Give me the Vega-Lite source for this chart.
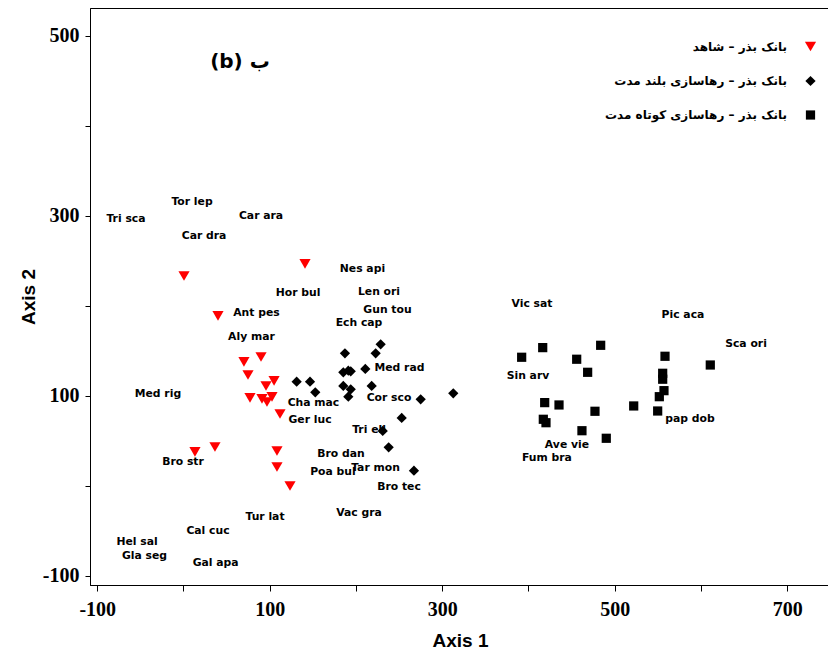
{
  "$schema": "https://vega.github.io/schema/vega-lite/v6.json",
  "width": 740,
  "height": 577,
  "autosize": {"type": "none"},
  "padding": {"left": 90, "top": 8, "right": 0, "bottom": 67},
  "background": "white",
  "config": {
    "view": {"stroke": "black", "strokeWidth": 1},
    "axis": {
      "grid": false,
      "domainColor": "black",
      "domainWidth": 1,
      "tickColor": "black",
      "tickWidth": 1,
      "tickSize": 5,
      "labelFont": "Liberation Serif",
      "labelFontWeight": "bold",
      "labelFontSize": 20,
      "labelColor": "black",
      "titleFont": "Liberation Sans",
      "titleFontWeight": "bold",
      "titleFontSize": 19,
      "titleColor": "black"
    },
    "legend": {
      "orient": "none",
      "legendX": 714,
      "legendY": 32,
      "labelAlign": "right",
      "labelOffset": -30,
      "rowPadding": 22,
      "labelFont": "DejaVu Sans",
      "labelFontWeight": "bold",
      "labelFontSize": 12,
      "labelColor": "black",
      "labelLimit": 400
    }
  },
  "datasets": {
    "points": [
      {"x": 0.6, "y": 233.3, "group": "بانک بذر – شاهد"},
      {"x": 140.9, "y": 246.7, "group": "بانک بذر – شاهد"},
      {"x": 40, "y": 188.9, "group": "بانک بذر – شاهد"},
      {"x": 89.9, "y": 143.3, "group": "بانک بذر – شاهد"},
      {"x": 70.1, "y": 137.8, "group": "بانک بذر – شاهد"},
      {"x": 74.8, "y": 123.3, "group": "بانک بذر – شاهد"},
      {"x": 95.7, "y": 111.1, "group": "بانک بذر – شاهد"},
      {"x": 105, "y": 116.7, "group": "بانک بذر – شاهد"},
      {"x": 77.1, "y": 97.8, "group": "بانک بذر – شاهد"},
      {"x": 91, "y": 96.7, "group": "بانک بذر – شاهد"},
      {"x": 96.8, "y": 93.3, "group": "بانک بذر – شاهد"},
      {"x": 102.6, "y": 98.9, "group": "بانک بذر – شاهد"},
      {"x": 111.9, "y": 80, "group": "بانک بذر – شاهد"},
      {"x": 13.3, "y": 37.8, "group": "بانک بذر – شاهد"},
      {"x": 36.5, "y": 43.3, "group": "بانک بذر – شاهد"},
      {"x": 108.4, "y": 38.9, "group": "بانک بذر – شاهد"},
      {"x": 108.4, "y": 21.1, "group": "بانک بذر – شاهد"},
      {"x": 123.5, "y": 0, "group": "بانک بذر – شاهد"},
      {"x": 228.6, "y": 157.4, "group": "بانک بذر – رهاسازی بلند مدت"},
      {"x": 187.2, "y": 147.4, "group": "بانک بذر – رهاسازی بلند مدت"},
      {"x": 222.8, "y": 147.4, "group": "بانک بذر – رهاسازی بلند مدت"},
      {"x": 210.8, "y": 130, "group": "بانک بذر – رهاسازی بلند مدت"},
      {"x": 185.3, "y": 126.3, "group": "بانک بذر – رهاسازی بلند مدت"},
      {"x": 191.1, "y": 128.1, "group": "بانک بذر – رهاسازی بلند مدت"},
      {"x": 193.9, "y": 127.4, "group": "بانک بذر – رهاسازی بلند مدت"},
      {"x": 131.2, "y": 115.9, "group": "بانک بذر – رهاسازی بلند مدت"},
      {"x": 146.7, "y": 115.9, "group": "بانک بذر – رهاسازی بلند مدت"},
      {"x": 152.8, "y": 104.1, "group": "بانک بذر – رهاسازی بلند مدت"},
      {"x": 185.3, "y": 111.1, "group": "بانک بذر – رهاسازی بلند مدت"},
      {"x": 193.9, "y": 107.4, "group": "بانک بذر – رهاسازی بلند مدت"},
      {"x": 191.1, "y": 99.2, "group": "بانک بذر – رهاسازی بلند مدت"},
      {"x": 218.2, "y": 111.1, "group": "بانک بذر – رهاسازی بلند مدت"},
      {"x": 275, "y": 96.3, "group": "بانک بذر – رهاسازی بلند مدت"},
      {"x": 312.8, "y": 103, "group": "بانک بذر – رهاسازی بلند مدت"},
      {"x": 253, "y": 75.6, "group": "بانک بذر – رهاسازی بلند مدت"},
      {"x": 231, "y": 61.1, "group": "بانک بذر – رهاسازی بلند مدت"},
      {"x": 237.9, "y": 43, "group": "بانک بذر – رهاسازی بلند مدت"},
      {"x": 267.2, "y": 17, "group": "بانک بذر – رهاسازی بلند مدت"},
      {"x": 416.5, "y": 153.7, "group": "بانک بذر – رهاسازی کوتاه مدت"},
      {"x": 392.1, "y": 143, "group": "بانک بذر – رهاسازی کوتاه مدت"},
      {"x": 483.7, "y": 156.3, "group": "بانک بذر – رهاسازی کوتاه مدت"},
      {"x": 455.9, "y": 140.8, "group": "بانک بذر – رهاسازی کوتاه مدت"},
      {"x": 468.6, "y": 126.3, "group": "بانک بذر – رهاسازی کوتاه مدت"},
      {"x": 558.3, "y": 144.1, "group": "بانک بذر – رهاسازی کوتاه مدت"},
      {"x": 610.8, "y": 134.4, "group": "بانک بذر – رهاسازی کوتاه مدت"},
      {"x": 555.6, "y": 125.2, "group": "بانک بذر – رهاسازی کوتاه مدت"},
      {"x": 555.6, "y": 118.6, "group": "بانک بذر – رهاسازی کوتاه مدت"},
      {"x": 557.1, "y": 105.9, "group": "بانک بذر – رهاسازی کوتاه مدت"},
      {"x": 551.7, "y": 99.2, "group": "بانک بذر – رهاسازی کوتاه مدت"},
      {"x": 418.8, "y": 92.6, "group": "بانک بذر – رهاسازی کوتاه مدت"},
      {"x": 435.4, "y": 90, "group": "بانک بذر – رهاسازی کوتاه مدت"},
      {"x": 477.1, "y": 83, "group": "بانک بذر – رهاسازی کوتاه مدت"},
      {"x": 522, "y": 88.9, "group": "بانک بذر – رهاسازی کوتاه مدت"},
      {"x": 549.8, "y": 83.3, "group": "بانک بذر – رهاسازی کوتاه مدت"},
      {"x": 417.2, "y": 74.1, "group": "بانک بذر – رهاسازی کوتاه مدت"},
      {"x": 420.3, "y": 70.3, "group": "بانک بذر – رهاسازی کوتاه مدت"},
      {"x": 462, "y": 61.4, "group": "بانک بذر – رهاسازی کوتاه مدت"},
      {"x": 490.2, "y": 53, "group": "بانک بذر – رهاسازی کوتاه مدت"}
    ],
    "labels": [
      {"x": -66.7, "y": 296.3, "name": "Tri sca"},
      {"x": 9.9, "y": 315.6, "name": "Tor lep"},
      {"x": 89.9, "y": 300, "name": "Car ara"},
      {"x": 23.8, "y": 277.8, "name": "Car dra"},
      {"x": 84.6, "y": 191.9, "name": "Ant pes"},
      {"x": 78.8, "y": 165.9, "name": "Aly mar"},
      {"x": -29.6, "y": 101.9, "name": "Med rig"},
      {"x": -0.6, "y": 27, "name": "Bro str"},
      {"x": 207.5, "y": 241.1, "name": "Nes api"},
      {"x": 132.8, "y": 214.1, "name": "Hor bul"},
      {"x": 226.7, "y": 215.2, "name": "Len ori"},
      {"x": 236.5, "y": 195.6, "name": "Gun tou"},
      {"x": 203.5, "y": 181.4, "name": "Ech cap"},
      {"x": 250.4, "y": 130.8, "name": "Med rad"},
      {"x": 150.7, "y": 92.6, "name": "Cha mac"},
      {"x": 238.3, "y": 97.4, "name": "Cor sco"},
      {"x": 146.7, "y": 73.3, "name": "Ger luc"},
      {"x": 215.1, "y": 62.2, "name": "Tri ell"},
      {"x": 182.6, "y": 35.2, "name": "Bro dan"},
      {"x": 173.3, "y": 15.2, "name": "Poa bul"},
      {"x": 222.6, "y": 19.7, "name": "Tar mon"},
      {"x": 249.9, "y": -1.4, "name": "Bro tec"},
      {"x": 404.1, "y": 202.2, "name": "Vic sat"},
      {"x": 579.1, "y": 190, "name": "Pic aca"},
      {"x": 652.2, "y": 157.4, "name": "Sca ori"},
      {"x": 399.4, "y": 122.6, "name": "Sin arv"},
      {"x": 587.2, "y": 74.1, "name": "pap dob"},
      {"x": 444.6, "y": 45.6, "name": "Ave vie"},
      {"x": 421.4, "y": 30.8, "name": "Fum bra"},
      {"x": 94.5, "y": -34.1, "name": "Tur lat"},
      {"x": 203.5, "y": -30.3, "name": "Vac gra"},
      {"x": 28.4, "y": -49.7, "name": "Cal cuc"},
      {"x": -53.9, "y": -62.6, "name": "Hel sal"},
      {"x": -45.2, "y": -77.4, "name": "Gla seg"},
      {"x": 37.3, "y": -85.2, "name": "Gal apa"}
    ],
    "annot": [
      {"x": 65.5, "y": 471, "text": "(b) ب"}
    ]
  },
  "layer": [
    {
      "data": {"name": "labels"},
      "mark": {"type": "text", "font": "DejaVu Sans", "fontWeight": "bold", "fontSize": 10.8, "color": "black", "align": "center", "baseline": "middle"},
      "encoding": {
        "x": {"field": "x", "type": "quantitative"},
        "y": {"field": "y", "type": "quantitative"},
        "text": {"field": "name"}
      }
    },
    {
      "data": {"name": "annot"},
      "mark": {"type": "text", "font": "DejaVu Sans", "fontWeight": "bold", "fontSize": 20, "color": "black", "align": "center", "baseline": "middle"},
      "encoding": {
        "x": {"field": "x", "type": "quantitative"},
        "y": {"field": "y", "type": "quantitative"},
        "text": {"field": "text"}
      }
    },
    {
      "data": {"name": "points"},
      "mark": {"type": "point", "filled": true, "opacity": 1, "strokeWidth": 0},
      "encoding": {
        "x": {"field": "x", "type": "quantitative"},
        "y": {"field": "y", "type": "quantitative"},
        "shape": {"field": "group", "type": "nominal", "title": null,
          "scale": {"domain": ["بانک بذر – شاهد", "بانک بذر – رهاسازی بلند مدت", "بانک بذر – رهاسازی کوتاه مدت"], "range": ["triangle-down", "diamond", "square"]}},
        "color": {"field": "group", "type": "nominal", "title": null,
          "scale": {"domain": ["بانک بذر – شاهد", "بانک بذر – رهاسازی بلند مدت", "بانک بذر – رهاسازی کوتاه مدت"], "range": ["#ff0000", "#000000", "#000000"]}},
        "size": {"field": "group", "type": "nominal", "title": null,
          "scale": {"domain": ["بانک بذر – شاهد", "بانک بذر – رهاسازی بلند مدت", "بانک بذر – رهاسازی کوتاه مدت"], "range": [125, 85, 100]}}
      }
    }
  ],
  "resolve": {"scale": {"x": "shared", "y": "shared"}},
  "encoding": {
    "x": {
      "field": "x", "type": "quantitative",
      "scale": {"domain": [-108.4, 749.6], "nice": false, "zero": false},
      "axis": {"title": "Axis 1", "values": [-100, 0, 100, 200, 300, 400, 500, 600, 700], "labelExpr": "datum.value % 200 == 0 ? '' : '' + datum.value", "labelPadding": 8, "titlePadding": 12, "tickSize": 6}
    },
    "y": {
      "field": "y", "type": "quantitative",
      "scale": {"domain": [-110, 531], "nice": false, "zero": false},
      "axis": {"title": "Axis 2", "values": [-100, 0, 100, 200, 300, 400, 500], "labelExpr": "datum.value % 200 == 0 ? '' : '' + datum.value", "labelPadding": 6, "titlePadding": 4}
    }
  }
}
